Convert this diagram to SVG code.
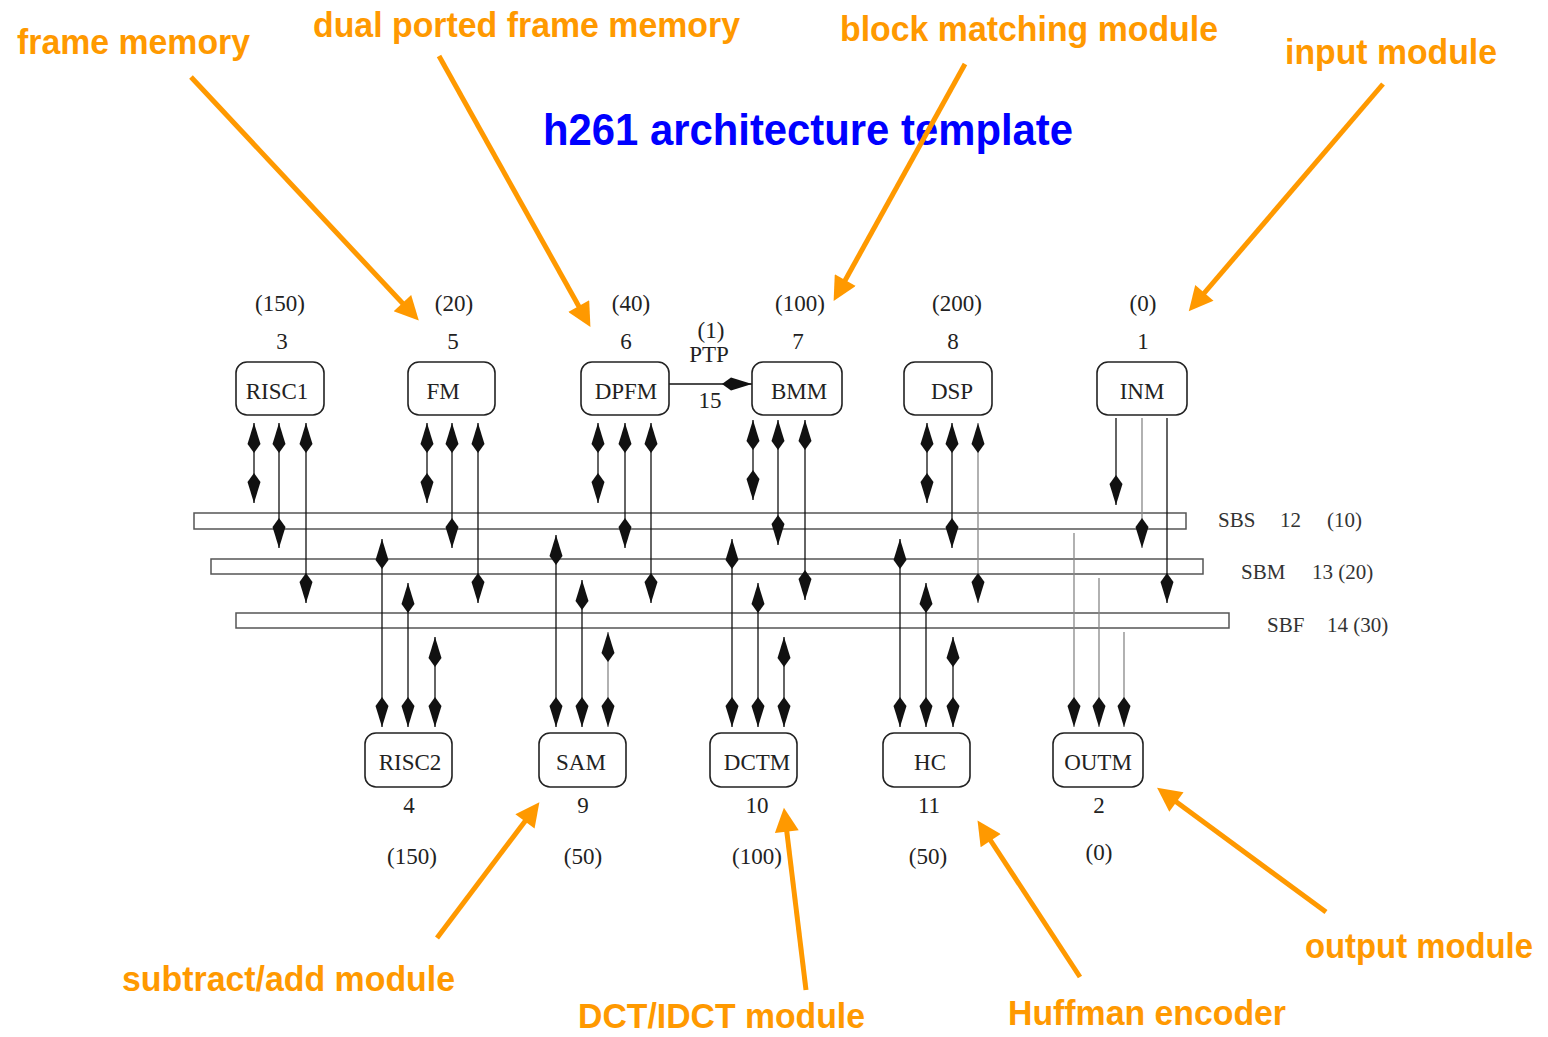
<svg xmlns="http://www.w3.org/2000/svg" width="1548" height="1037" viewBox="0 0 1548 1037">
<defs>
<style>
.box{fill:#fff;stroke:#222;stroke-width:1.6}
.bus{fill:#fff;stroke:#555;stroke-width:1.5}
.t{font-family:"Liberation Serif","Times New Roman",serif;font-size:23px;fill:#222;text-anchor:middle}
.bl{font-family:"Liberation Serif","Times New Roman",serif;font-size:21px;fill:#333}
.c{stroke:#111;stroke-width:1.3;fill:none}
.g{stroke:#888}
.bi{marker-start:url(#ah);marker-end:url(#ah)}
.dn{marker-end:url(#ah)}
.o{stroke:#FF9900;stroke-width:5;fill:none;marker-end:url(#oa)}
.ot{font-family:"Liberation Sans",Arial,sans-serif;font-weight:bold;font-size:35px;fill:#FF9900}
.title{font-family:"Liberation Sans",Arial,sans-serif;font-weight:bold;font-size:44px;fill:#0000FF}
</style>
<marker id="ah" viewBox="0 0 30 16" refX="30" refY="8" markerWidth="30" markerHeight="16" markerUnits="userSpaceOnUse" orient="auto-start-reverse">
<path d="M30,8 L9,1.5 L0,8 L9,14.5 Z" fill="#111"/>
</marker>
<marker id="oa" viewBox="0 0 10 10" refX="2.8" refY="5" markerWidth="28" markerHeight="24" markerUnits="userSpaceOnUse" orient="auto">
<path d="M0,0 L10,5 L0,10 Z" fill="#FF9900"/>
</marker>
</defs>
<rect width="1548" height="1037" fill="#fff"/>

<text class="title" x="543" y="145" textLength="530" lengthAdjust="spacingAndGlyphs">h261 architecture template</text>

<g id="buses">
<rect class="bus" x="194" y="513" width="992" height="16"/>
<rect class="bus" x="211" y="559" width="992" height="15"/>
<rect class="bus" x="236" y="613" width="993" height="15"/>
<text class="bl" y="527"><tspan x="1218">SBS</tspan><tspan x="1280">12</tspan><tspan x="1327">(10)</tspan></text>
<text class="bl" y="579"><tspan x="1241">SBM</tspan><tspan x="1312">13 (20)</tspan></text>
<text class="bl" y="632"><tspan x="1267">SBF</tspan><tspan x="1327">14 (30)</tspan></text>
</g>

<g id="connectors">
<line class="c bi" x1="254" y1="423" x2="254" y2="503"/>
<line class="c bi" x1="279" y1="423" x2="279" y2="548"/>
<line class="c bi" x1="306" y1="423" x2="306" y2="603"/>
<line class="c bi" x1="427" y1="423" x2="427" y2="503"/>
<line class="c bi" x1="452" y1="423" x2="452" y2="548"/>
<line class="c bi" x1="478" y1="423" x2="478" y2="603"/>
<line class="c bi" x1="598" y1="423" x2="598" y2="503"/>
<line class="c bi" x1="625" y1="423" x2="625" y2="548"/>
<line class="c bi" x1="651" y1="423" x2="651" y2="603"/>
<line class="c bi" x1="753" y1="420" x2="753" y2="500"/>
<line class="c bi" x1="778" y1="420" x2="778" y2="545"/>
<line class="c bi" x1="805" y1="420" x2="805" y2="600"/>
<line class="c bi" x1="927" y1="423" x2="927" y2="503"/>
<line class="c bi" x1="952" y1="423" x2="952" y2="548"/>
<line class="c g bi" x1="978" y1="423" x2="978" y2="603"/>
<line class="c dn" x1="1116" y1="418" x2="1116" y2="505"/>
<line class="c g dn" x1="1142" y1="418" x2="1142" y2="548"/>
<line class="c dn" x1="1167" y1="418" x2="1167" y2="603"/>
<line class="c bi" x1="382" y1="539" x2="382" y2="727"/>
<line class="c bi" x1="408" y1="583" x2="408" y2="727"/>
<line class="c bi" x1="435" y1="637" x2="435" y2="727"/>
<line class="c bi" x1="556" y1="535" x2="556" y2="727"/>
<line class="c bi" x1="582" y1="580" x2="582" y2="727"/>
<line class="c g bi" x1="608" y1="632" x2="608" y2="727"/>
<line class="c bi" x1="732" y1="539" x2="732" y2="727"/>
<line class="c bi" x1="758" y1="583" x2="758" y2="727"/>
<line class="c bi" x1="784" y1="637" x2="784" y2="727"/>
<line class="c bi" x1="900" y1="539" x2="900" y2="727"/>
<line class="c bi" x1="926" y1="583" x2="926" y2="727"/>
<line class="c bi" x1="953" y1="637" x2="953" y2="727"/>
<line class="c g dn" x1="1074" y1="533" x2="1074" y2="727"/>
<line class="c g dn" x1="1099" y1="578" x2="1099" y2="727"/>
<line class="c g dn" x1="1124" y1="632" x2="1124" y2="727"/>
<line class="c dn" x1="669" y1="384" x2="752" y2="384"/>
<text class="t" x="711" y="338">(1)</text>
<text class="t" x="709" y="362">PTP</text>
<text class="t" x="710" y="408">15</text>
</g>

<g id="n-risc1">
<rect class="box" x="236" y="362" width="88" height="53" rx="11"/>
<text class="t" x="277" y="399">RISC1</text>
<text class="t" x="280" y="311">(150)</text>
<text class="t" x="282" y="349">3</text>
</g>
<g id="n-fm">
<rect class="box" x="408" y="362" width="87" height="53" rx="11"/>
<text class="t" x="443" y="399">FM</text>
<text class="t" x="454" y="311">(20)</text>
<text class="t" x="453" y="349">5</text>
</g>
<g id="n-dpfm">
<rect class="box" x="581" y="362" width="88" height="53" rx="11"/>
<text class="t" x="626" y="399">DPFM</text>
<text class="t" x="631" y="311">(40)</text>
<text class="t" x="626" y="349">6</text>
</g>
<g id="n-bmm">
<rect class="box" x="752" y="362" width="90" height="53" rx="11"/>
<text class="t" x="799" y="399">BMM</text>
<text class="t" x="800" y="311">(100)</text>
<text class="t" x="798" y="349">7</text>
</g>
<g id="n-dsp">
<rect class="box" x="904" y="362" width="88" height="53" rx="11"/>
<text class="t" x="952" y="399">DSP</text>
<text class="t" x="957" y="311">(200)</text>
<text class="t" x="953" y="349">8</text>
</g>
<g id="n-inm">
<rect class="box" x="1097" y="362" width="90" height="53" rx="11"/>
<text class="t" x="1142" y="399">INM</text>
<text class="t" x="1143" y="311">(0)</text>
<text class="t" x="1143" y="349">1</text>
</g>

<g id="n-risc2">
<rect class="box" x="365" y="733" width="87" height="54" rx="11"/>
<text class="t" x="410" y="770">RISC2</text>
<text class="t" x="409" y="813">4</text>
<text class="t" x="412" y="864">(150)</text>
</g>
<g id="n-sam">
<rect class="box" x="539" y="733" width="87" height="54" rx="11"/>
<text class="t" x="581" y="770">SAM</text>
<text class="t" x="583" y="813">9</text>
<text class="t" x="583" y="864">(50)</text>
</g>
<g id="n-dctm">
<rect class="box" x="710" y="733" width="87" height="54" rx="11"/>
<text class="t" x="757" y="770">DCTM</text>
<text class="t" x="757" y="813">10</text>
<text class="t" x="757" y="864">(100)</text>
</g>
<g id="n-hc">
<rect class="box" x="883" y="733" width="87" height="54" rx="11"/>
<text class="t" x="930" y="770">HC</text>
<text class="t" x="929" y="813">11</text>
<text class="t" x="928" y="864">(50)</text>
</g>
<g id="n-outm">
<rect class="box" x="1053" y="733" width="90" height="54" rx="11"/>
<text class="t" x="1098" y="770">OUTM</text>
<text class="t" x="1099" y="813">2</text>
<text class="t" x="1099" y="860">(0)</text>
</g>

<g id="annotations">
<line class="o" x1="191" y1="77" x2="407" y2="308"/>
<line class="o" x1="439" y1="56" x2="582" y2="312"/>
<line class="o" x1="965" y1="64" x2="842" y2="286"/>
<line class="o" x1="1383" y1="84" x2="1200" y2="298"/>
<line class="o" x1="437" y1="938" x2="529" y2="816"/>
<line class="o" x1="806" y1="990" x2="786" y2="825"/>
<line class="o" x1="1080" y1="977" x2="987" y2="835"/>
<line class="o" x1="1326" y1="912" x2="1171" y2="798"/>
<text class="ot" x="17" y="54" textLength="233" lengthAdjust="spacingAndGlyphs">frame memory</text>
<text class="ot" x="313" y="37" textLength="427" lengthAdjust="spacingAndGlyphs">dual ported frame memory</text>
<text class="ot" x="840" y="41" textLength="378" lengthAdjust="spacingAndGlyphs">block matching module</text>
<text class="ot" x="1285" y="64" textLength="212" lengthAdjust="spacingAndGlyphs">input module</text>
<text class="ot" x="122" y="991" textLength="333" lengthAdjust="spacingAndGlyphs">subtract/add module</text>
<text class="ot" x="578" y="1028" textLength="287" lengthAdjust="spacingAndGlyphs">DCT/IDCT module</text>
<text class="ot" x="1008" y="1025" textLength="278" lengthAdjust="spacingAndGlyphs">Huffman encoder</text>
<text class="ot" x="1305" y="958" textLength="228" lengthAdjust="spacingAndGlyphs">output module</text>
</g>
</svg>
